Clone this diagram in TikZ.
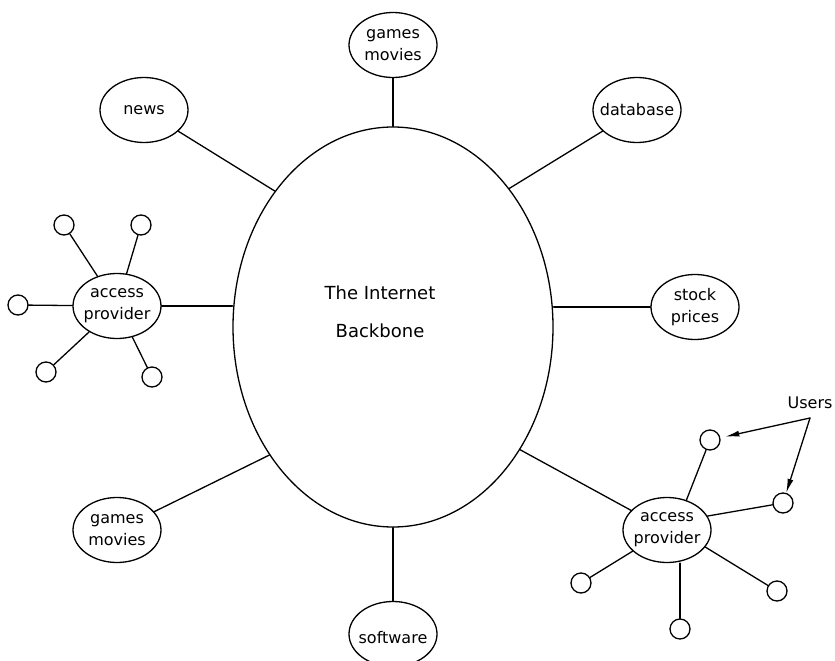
\documentclass[tikz,border=0pt]{standalone}
\usepackage{fontspec}
\setmainfont{DejaVu Sans}
\usetikzlibrary{shapes.geometric,arrows.meta}
\tikzset{
	topic/.style={ellipse,draw,minimum width=88,minimum height=65,inner sep=0pt},
	lbl/.style={align=center,inner sep=0pt,font=\fontsize{16}{22}\selectfont},
	user/.style={circle,draw,minimum size=20,inner sep=0pt}
}
\begin{document}
\begin{tikzpicture}[x=1pt,y=-1pt,>={Latex[length=14pt,width=6pt]},line join=round,line cap=round,line width=1.3pt]
		\useasboundingbox (0,0) rectangle (835,661);
		% backbone
		\node[ellipse,draw,minimum width=320,minimum height=400,inner sep=0pt] (bb) at (393,327) {};
		\node[align=center,font=\fontsize{18}{38}\selectfont] (title) at (380,312) {The Internet\\Backbone};
		% services
		\node[topic,label={[lbl]center:{games\\movies}}] (gtop) at (393,45) {};
		\node[topic,label={[lbl]center:news}] (news) at (144,110) {};
		\node[topic,label={[lbl]center:database}] (db) at (637,110) {};
		\node[topic,label={[lbl]center:{stock\\prices}}] (sp) at (695,307) {};
		\node[topic,label={[lbl]center:{games\\movies}}] (gbot) at (117,530) {};
		\node[topic,label={[lbl,yshift=-4pt]center:software}] (sw) at (393,634) {};
		\node[topic,label={[lbl]center:{access\\provider}}] (apl) at (117,306) {};
		\node[topic,label={[lbl]center:{access\\provider}}] (apr) at (667,530) {};
		\draw (gtop) -- (bb);
		\draw (news) -- (bb.131);
		\draw (db) -- (bb.50);
		\draw (sp) -- (sp -| bb.east);
		\draw (apl) -- (apl -| bb.west);
		\draw (gbot) -- (bb.226);
		\draw (sw) -- (bb);
		\draw (apr) -- (bb.316);
		% users
		\foreach \n/\p in {u1/{64,225},u2/{141,225},u3/{18,305},u4/{46,372},u5/{152,377},v1/{710,440},v2/{783,503},v3/{581,583},v4/{680,629},v5/{777,591}}
			\node[user] (\n) at (\p) {};
		\foreach \n in {u1,u2,u3,u4,u5}\draw (\n) -- (apl);
		\foreach \n/\a in {v1/57,v2/19,v5/336}\draw (\n) -- (apr.\a);
		\draw (v3) -- (apr);
		\draw (v4) -- (v4 |- apr.south);
		\node[anchor=west,inner sep=0pt,font=\fontsize{16}{18}\selectfont] (users) at (787,403) {Users};
		\coordinate (tip) at (810,418);
		\draw[->,shorten >=5pt] (tip) -- (v1);
		\draw[->] (tip) -- (v2);
\end{tikzpicture}
\end{document}
